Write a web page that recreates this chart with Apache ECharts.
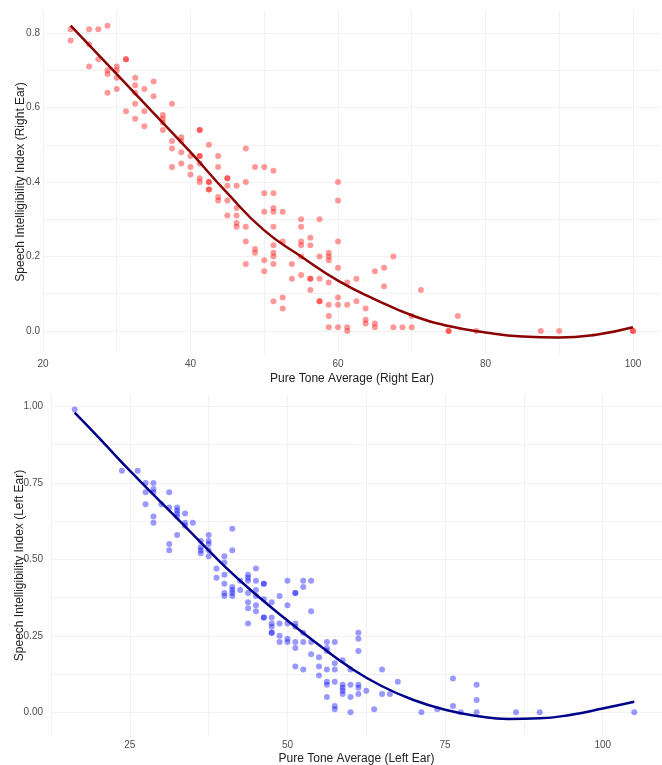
<!DOCTYPE html>
<html>
<head>
<meta charset="utf-8">
<script src="https://cdn.jsdelivr.net/npm/echarts@6/dist/echarts.min.js"></script>
<style>
  html, body { margin: 0; padding: 0; background: #fff; }
  #chart { width: 662px; height: 765px; }
</style>
</head>
<body>
<div id="chart"></div>
<script>
// right ear: pure tone average columns and the SII values found at each one
var rightPta = [23.75, 26.25, 27.5, 28.75, 30, 31.25, 32.5, 33.75, 35, 36.25, 37.5, 38.75, 40, 41.25,
  42.5, 43.75, 45, 46.25, 47.5, 48.75, 50, 51.25, 52.5, 53.75, 55, 56.25, 57.5, 58.75, 60, 61.25,
  62.5, 63.75, 65, 66.25, 67.5, 68.75, 70, 71.25, 75, 76.25, 78.75, 87.5, 90, 100];
var rightSii = [
  [0.81, 0.78], [0.81, 0.77, 0.71], [0.81, 0.73], [0.82, 0.70, 0.69, 0.64], [0.71, 0.70, 0.68, 0.65],
  [0.73, 0.73, 0.59], [0.68, 0.66, 0.64, 0.61, 0.57], [0.65, 0.59, 0.55], [0.67, 0.63],
  [0.58, 0.57, 0.56, 0.54], [0.61, 0.51, 0.49, 0.44], [0.52, 0.51, 0.48, 0.45], [0.47, 0.44, 0.42],
  [0.54, 0.54, 0.47, 0.47, 0.45, 0.41, 0.40], [0.50, 0.40, 0.40, 0.38, 0.38], [0.47, 0.44, 0.36, 0.35],
  [0.41, 0.41, 0.39, 0.35, 0.31], [0.39, 0.33, 0.31, 0.29, 0.28], [0.49, 0.40, 0.28, 0.24, 0.18],
  [0.44, 0.22, 0.21], [0.44, 0.37, 0.32, 0.19, 0.16],
  [0.43, 0.37, 0.33, 0.32, 0.28, 0.23, 0.21, 0.20, 0.18, 0.08], [0.32, 0.24, 0.09, 0.06], [0.18, 0.14],
  [0.30, 0.28, 0.24, 0.23, 0.20, 0.15], [0.25, 0.23, 0.14, 0.14, 0.11], [0.30, 0.20, 0.14, 0.08, 0.08],
  [0.21, 0.20, 0.19, 0.13, 0.07, 0.04, 0.01], [0.40, 0.35, 0.24, 0.17, 0.09, 0.07, 0.01],
  [0.13, 0.07, 0.01, 0.00], [0.14, 0.08], [0.06, 0.03, 0.02], [0.16, 0.02, 0.01], [0.17, 0.12],
  [0.20, 0.01], [0.01], [0.04, 0.01], [0.11], [0.00, 0.00], [0.04], [0.00], [0.00], [0.00], [0.00, 0.00]
];
var rightFitPta = [23.75, 30, 35, 40, 45, 50, 55, 60, 65, 70, 75, 80, 85, 90, 95, 100];
var rightFitSii = [0.82, 0.69, 0.585, 0.48, 0.37, 0.27, 0.20, 0.135, 0.085, 0.042, 0.013, -0.004, -0.015, -0.018, -0.01, 0.01];

// left ear
var leftPta = [16.25, 23.75, 26.25, 27.5, 28.75, 30, 31.25, 32.5, 33.75, 35, 36.25, 37.5, 38.75, 40,
  41.25, 42.5, 43.75, 45, 46.25, 47.5, 48.75, 50, 51.25, 52.5, 53.75, 55, 56.25, 57.5, 58.75, 60,
  61.25, 62.5, 63.75, 65, 66.25, 67.5, 71.25, 73.75, 76.25, 77.5, 80, 86.25, 90, 105];
var leftSii = [
  [0.99], [0.79], [0.79], [0.75, 0.72, 0.68], [0.75, 0.73, 0.72, 0.64, 0.62], [0.68],
  [0.72, 0.67, 0.55, 0.53], [0.67, 0.66, 0.65, 0.64, 0.58], [0.65, 0.62, 0.61], [0.62],
  [0.56, 0.54, 0.53, 0.52], [0.58, 0.56, 0.55, 0.53, 0.51], [0.47, 0.44],
  [0.51, 0.49, 0.45, 0.42, 0.39, 0.38], [0.60, 0.53, 0.41, 0.40, 0.39, 0.38], [0.43, 0.40],
  [0.45, 0.44, 0.43, 0.39, 0.36, 0.34, 0.29], [0.47, 0.43, 0.40, 0.38, 0.35, 0.33],
  [0.42, 0.42, 0.37, 0.31, 0.31], [0.36, 0.31, 0.29, 0.28, 0.26, 0.26], [0.38, 0.29, 0.25, 0.23],
  [0.43, 0.35, 0.29, 0.24, 0.23], [0.39, 0.39, 0.29, 0.28, 0.23, 0.21, 0.15],
  [0.43, 0.41, 0.26, 0.23, 0.14], [0.43, 0.33, 0.23, 0.19], [0.18, 0.15, 0.12],
  [0.23, 0.21, 0.20, 0.14, 0.10, 0.09, 0.05], [0.23, 0.16, 0.14, 0.10, 0.02, 0.01],
  [0.17, 0.09, 0.08, 0.07, 0.06], [0.14, 0.09, 0.05, 0.00], [0.26, 0.24, 0.20, 0.09, 0.08, 0.06],
  [0.07], [0.01], [0.14, 0.06], [0.06], [0.10], [0.00], [0.01], [0.11, 0.02], [0.00],
  [0.09, 0.04, 0.00], [0.00], [0.00], [0.00]
];
var leftFitPta = [16.25, 20, 25, 30, 35, 40, 45, 50, 55, 60, 65, 70, 75, 80, 85, 90, 95, 100, 105];
var leftFitSii = [0.98, 0.90, 0.79, 0.686, 0.582, 0.478, 0.385, 0.30, 0.22, 0.145, 0.085, 0.04, 0.008, -0.012, -0.022, -0.02, -0.008, 0.012, 0.034];

function columns(xs, groups) {
  var out = [];
  xs.forEach(function (x, i) {
    groups[i].forEach(function (y) { out.push([x, y]); });
  });
  return out;
}
function pairs(xs, ys) {
  return xs.map(function (x, i) { return [x, ys[i]]; });
}
function onStep(v, step) {
  return Math.abs(v / step - Math.round(v / step)) < 1e-6;
}

var labelColor = '#4d4d4d';
var majorColor = '#e6e6e6';
var minorColor = '#f2f2f2';

function majorAxis(grid, pos, min, max, step, digits, name, gap, labelMargin) {
  return {
    type: 'value', gridIndex: grid, position: pos, min: min, max: max,
    minInterval: step, maxInterval: step,
    axisLine: { show: false }, axisTick: { show: false },
    axisLabel: {
      color: labelColor, fontSize: 10, margin: labelMargin, hideOverlap: false,
      formatter: function (v) { return onStep(v, step) ? v.toFixed(digits) : ''; }
    },
    splitLine: { show: true, showMinLine: onStep(min, step), showMaxLine: onStep(max, step),
      lineStyle: { color: majorColor, width: 1 } },
    name: name, nameLocation: 'middle', nameGap: gap, nameMoveOverlap: false,
    nameTextStyle: { color: '#222', fontSize: 12 }
  };
}
function minorAxis(grid, pos, min, max, step) {
  return {
    type: 'value', gridIndex: grid, position: pos, min: min, max: max,
    minInterval: step, maxInterval: step,
    axisLine: { show: false }, axisTick: { show: false }, axisLabel: { show: false },
    splitLine: { show: true, showMinLine: onStep(min, step), showMaxLine: onStep(max, step),
      lineStyle: { color: minorColor, width: 1 } }
  };
}

var chart = echarts.init(document.getElementById('chart'));
var option = {
  animation: false,
  backgroundColor: '#fff',
  textStyle: { fontFamily: 'Liberation Sans, Arial, sans-serif' },
  grid: [
    { left: 43, top: 10, width: 618, height: 344, outerBoundsMode: 'none', containLabel: false },
    { left: 51, top: 394, width: 611, height: 343, outerBoundsMode: 'none', containLabel: false }
  ],
  xAxis: [
    majorAxis(0, 'bottom', 20, 103.8, 20, 0, 'Pure Tone Average (Right Ear)', 19, 5),
    minorAxis(0, 'top', 20, 103.8, 10),
    majorAxis(1, 'bottom', 12.5, 109.4, 25, 0, 'Pure Tone Average (Left Ear)', 16, 3),
    minorAxis(1, 'top', 12.5, 109.4, 12.5)
  ],
  yAxis: [
    majorAxis(0, 'left', -0.062, 0.862, 0.2, 1, 'Speech Intelligibility Index (Right Ear)', 16, 3),
    minorAxis(0, 'right', -0.062, 0.862, 0.1),
    majorAxis(1, 'left', -0.081, 1.041, 0.25, 2, 'Speech Intelligibility Index (Left Ear)', 25, 8),
    minorAxis(1, 'right', -0.081, 1.041, 0.125)
  ],
  series: [
    {
      type: 'scatter', xAxisIndex: 0, yAxisIndex: 0, symbolSize: 6,
      itemStyle: { color: 'rgba(255, 0, 0, 0.5)' },
      data: columns(rightPta, rightSii)
    },
    {
      type: 'line', xAxisIndex: 0, yAxisIndex: 0, smooth: true, showSymbol: false, z: 3,
      lineStyle: { color: '#8b0000', width: 2.5 },
      data: pairs(rightFitPta, rightFitSii)
    },
    {
      type: 'scatter', xAxisIndex: 2, yAxisIndex: 2, symbolSize: 6,
      itemStyle: { color: 'rgba(0, 0, 255, 0.5)' },
      data: columns(leftPta, leftSii)
    },
    {
      type: 'line', xAxisIndex: 2, yAxisIndex: 2, smooth: true, showSymbol: false, z: 3,
      lineStyle: { color: '#00008b', width: 2.5 },
      data: pairs(leftFitPta, leftFitSii)
    }
  ]
};
chart.setOption(option);
</script>
</body>
</html>
